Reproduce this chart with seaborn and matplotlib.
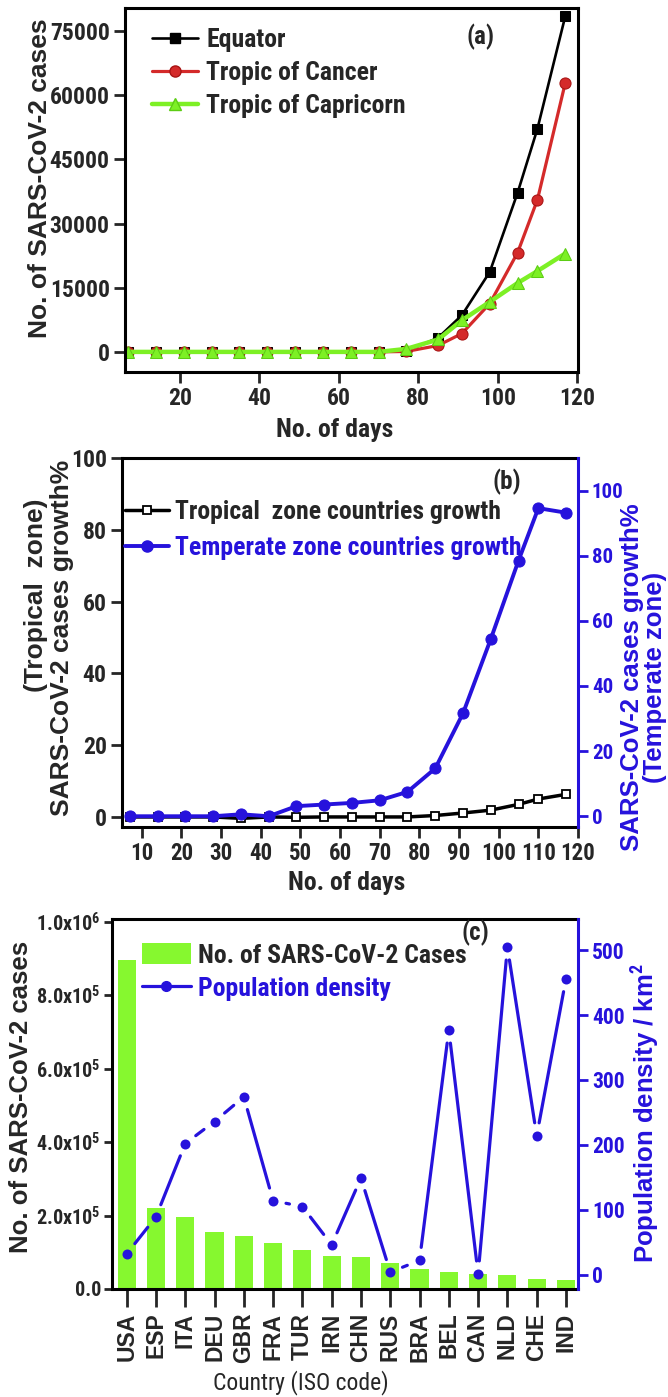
import os
import numpy as np
import pandas as pd
import matplotlib
matplotlib.use("Agg")
import matplotlib.pyplot as plt
import seaborn as sns
from matplotlib import font_manager
from matplotlib.font_manager import FontProperties
from matplotlib.lines import Line2D
from matplotlib.patches import Patch
from matplotlib.ticker import FuncFormatter

# ---------------- data ----------------
days_a = [7, 14, 21, 28, 35, 42, 49, 56, 63, 70, 77, 85, 91, 98, 105, 110, 117]
equator = [0, 0, 0, 0, 0, 0, 0, 0, 0, 0, 150, 3300, 8600, 18700, 37200, 52200, 78500]
tropic_cancer = [0, 0, 0, 0, 0, 0, 0, 0, 0, 0, 100, 1500, 4300, 11300, 23200, 35600, 62900]
tropic_capricorn = [0, 0, 0, 0, 0, 0, 0, 0, 0, 0, 700, 2900, 7400, 11700, 16100, 18900, 23000]
legend_a = ["Equator", "Tropic of Cancer", "Tropic of Capricorn"]

days_b = [7, 14, 21, 28, 35, 42, 49, 56, 63, 70, 77, 84, 91, 98, 105, 110, 117]
tropical_growth = [0, 0, 0, 0, -0.4, 0, -0.1, 0, 0, 0, 0, 0.4, 1.1, 1.9, 3.5, 5.0, 6.3]
temperate_growth = [0, 0, 0, 0, 0.6, 0, 3.1, 3.6, 4.1, 4.9, 7.5, 14.7, 31.6, 54.4, 78.5, 94.6, 93.2]
legend_b = ["Tropical  zone countries growth", "Temperate zone countries growth"]

countries = ["USA", "ESP", "ITA", "DEU", "GBR", "FRA", "TUR", "IRN",
             "CHN", "RUS", "BRA", "BEL", "CAN", "NLD", "CHE", "IND"]
cases = [895000, 220000, 196000, 154000, 143000, 125000, 105000, 89000,
         86000, 71000, 55000, 46000, 42000, 37000, 28000, 24000]
density = [32, 89, 202, 236, 274, 114, 105, 46, 149, 4, 22, 377, 1, 505, 214, 456]
legend_c = ["No. of SARS-CoV-2 Cases", "Population density"]

# ---------------- fonts ----------------
sns.set_theme(style="ticks")
font_files = [f.fname for f in font_manager.fontManager.ttflist]


def find_file(cands):
    for c in cands:
        for p in font_files:
            if os.path.basename(p).lower().startswith(c.lower()):
                return p
    return None


NB = find_file(["LiberationSansNarrow-Bold.", "RobotoCondensed-Bold.", "Roboto_Condensed-Bold",
                "NotoSans-CondensedBold.", "OpenSans-CondensedBold.", "OpenSans_Condensed-Bold",
                "OpenSansCondensed-Bold", "DejaVuSansCondensed-Bold."])
NR = find_file(["LiberationSansNarrow-Regular.", "RobotoCondensed-Regular.",
                "NotoSans-Condensed.", "OpenSans-Condensed.", "DejaVuSansCondensed."])
WB = find_file(["LiberationSans-Bold.", "Arimo-Bold.", "DejaVuSans-Bold."])
NSCALE = 0.86 if (NB is None or "dejavu" in os.path.basename(NB).lower()) else 1.0
WSCALE = 1.0 if (WB and "liberation" in os.path.basename(WB).lower()) else 0.9

plt.rcParams["font.family"] = ["Liberation Sans", "DejaVu Sans"]
if NB:
    fam = FontProperties(fname=NB).get_name()
    plt.rcParams["mathtext.fontset"] = "custom"
    plt.rcParams["mathtext.rm"] = fam + ":bold"
    plt.rcParams["mathtext.bf"] = fam + ":bold"
    plt.rcParams["mathtext.default"] = "rm"


def fnarrow(size, weight="bold"):
    path = NB if weight == "bold" else (NR or NB)
    if path:
        return FontProperties(fname=path, size=size * NSCALE)
    return FontProperties(family="DejaVu Sans", weight=weight, size=size * 0.82)


def fwide(size):
    if WB:
        return FontProperties(fname=WB, size=size * WSCALE)
    return FontProperties(family="DejaVu Sans", weight="bold", size=size * 0.9)


BLACK = "black"
RED = "#d42a2a"
RED_E = "#a81414"
GREEN = "#7df025"
GREEN_E = "#5ccc14"
BAR_GREEN = "#86f82f"
BLUE = "#2612dc"

W, H = 668, 1397
fig = plt.figure(figsize=(W / 100, H / 100), dpi=100)


def rect(l, t, r, b):
    return [l / W, 1 - b / H, (r - l) / W, (b - t) / H]


def ft(x, y, s, fp, **kw):
    fig.text(x / W, 1 - y / H, s, fontproperties=fp, ha="center", va="center", **kw)


def style_spines(ax, lw=2.2):
    for s in ax.spines.values():
        s.set_linewidth(lw)
        s.set_color("black")


def set_tick_fonts(labels, fp, color=None):
    for t in labels:
        t.set_fontproperties(fp)
        if color:
            t.set_color(color)


# ---------------- panel (a) ----------------
axA = fig.add_axes(rect(125, 8, 578, 372))
sns.lineplot(x=days_a, y=equator, ax=axA, color=BLACK, linewidth=1.9, marker="s",
             markersize=7.5, markeredgecolor=BLACK, markerfacecolor=BLACK, sort=False)
sns.lineplot(x=days_a, y=tropic_cancer, ax=axA, color=RED, linewidth=2.3, marker="o",
             markersize=8, markeredgecolor=RED_E, markerfacecolor=RED, sort=False)
sns.lineplot(x=days_a, y=tropic_capricorn, ax=axA, color=GREEN, linewidth=3.2, marker="^",
             markersize=9, markeredgecolor=GREEN_E, markerfacecolor=GREEN, sort=False)
axA.set_xlim(6.2, 120.2)
axA.set_ylim(-4700, 80400)
axA.set_xticks(range(20, 121, 20))
axA.set_yticks(range(0, 75001, 15000))
style_spines(axA)
axA.tick_params(direction="out", width=2, length=8, pad=3)
set_tick_fonts(axA.get_xticklabels(), fnarrow(17))
set_tick_fonts(axA.get_yticklabels(), fnarrow(17))
axA.set_xlabel("")
axA.set_ylabel("")
hA = [Line2D([], [], color=BLACK, lw=1.9, marker="s", ms=7.5),
      Line2D([], [], color=RED, lw=2.3, marker="o", ms=8, mec=RED_E),
      Line2D([], [], color=GREEN, lw=3.2, marker="^", ms=9, mec=GREEN_E)]
axA.legend(hA, legend_a, loc="upper left", bbox_to_anchor=(0.06, 0.945), frameon=False,
           prop=fnarrow(18.5), handlelength=1.8, handletextpad=0.3, labelspacing=0.35,
           borderpad=0, borderaxespad=0)
ft(480, 37, "(a)", fnarrow(18))
ft(40, 178, "No. of SARS-CoV-2 cases", fwide(19), rotation=90)
ft(335, 430, "No. of days", fnarrow(18.5))

# ---------------- panel (b) ----------------
axB = fig.add_axes(rect(122, 458, 578, 827))
sns.lineplot(x=days_b, y=tropical_growth, ax=axB, color=BLACK, linewidth=2.5, marker="s",
             markersize=6, markerfacecolor="white", markeredgecolor=BLACK,
             markeredgewidth=1.3, sort=False)
axB2 = axB.twinx()
sns.lineplot(x=days_b, y=temperate_growth, ax=axB2, color=BLUE, linewidth=2.8, marker="o",
             markersize=8, markerfacecolor=BLUE, markeredgecolor=BLUE, sort=False)
axB.set_xlim(5, 120)
axB.set_ylim(-2.8, 100)
axB2.set_ylim(-3.3, 110)
axB.set_xticks(range(10, 121, 10))
axB.set_yticks(range(0, 101, 20))
axB2.set_yticks(range(0, 101, 20))
style_spines(axB)
style_spines(axB2)
axB.spines["right"].set_visible(False)
for s in ("left", "top", "bottom"):
    axB2.spines[s].set_visible(False)
axB2.spines["right"].set_color(BLUE)
axB.tick_params(direction="out", width=2, length=8, pad=3)
axB2.tick_params(direction="out", width=2, length=7, pad=3, colors=BLUE)
set_tick_fonts(axB.get_xticklabels(), fnarrow(16.5))
set_tick_fonts(axB.get_yticklabels(), fnarrow(17))
set_tick_fonts(axB2.get_yticklabels(), fnarrow(15), BLUE)
axB.set_xlabel("")
axB.set_ylabel("")
axB2.set_ylabel("")
hB = [Line2D([], [], color=BLACK, lw=2.5, marker="s", ms=6, mfc="white", mew=1.3),
      Line2D([], [], color=BLUE, lw=2.8, marker="o", ms=8)]
legB = axB2.legend(hB, legend_b, loc="upper left", bbox_to_anchor=(0.007, 0.885), frameon=False,
                   prop=fnarrow(18.5), handlelength=1.7, handletextpad=0.25, labelspacing=0.45,
                   borderpad=0, borderaxespad=0)
legB.get_texts()[1].set_color(BLUE)
ft(507, 482, "(b)", fnarrow(18))
ft(36, 595, "(Tropical  zone)", fwide(19), rotation=90)
ft(62, 638, "SARS-CoV-2 cases growth%", fwide(19), rotation=90)
ft(632, 677, "SARS-CoV-2 cases growth%", fwide(18.5), rotation=90, color=BLUE)
ft(655, 677, "(Temperate zone)", fwide(18.5), rotation=90, color=BLUE)
ft(347, 883, "No. of days", fnarrow(18.5))

# ---------------- panel (c) ----------------
axC = fig.add_axes(rect(112, 919, 578, 1289))
sns.barplot(x=countries, y=cases, ax=axC, color=BAR_GREEN, saturation=1, width=0.62,
            linewidth=0)
axC2 = axC.twinx()
xs = np.arange(len(countries))
sns.scatterplot(x=xs, y=density, ax=axC2, color=BLUE, s=52, edgecolor=BLUE, linewidth=0,
                zorder=4)
for i in range(len(xs) - 1):
    axC2.annotate("", xy=(xs[i + 1], density[i + 1]), xytext=(xs[i], density[i]),
                  arrowprops=dict(arrowstyle="-", color=BLUE, lw=2.3, shrinkA=9.5, shrinkB=9.5))
axC.set_xlim(-0.5, 15.41)
axC.set_ylim(0, 1.007e6)
axC2.set_ylim(-22, 548)
axC.set_yticks(np.arange(0, 1.0e6 + 1, 2e5))
axC2.set_yticks(range(0, 501, 100))


def sci(v, pos):
    if v == 0:
        return "0.0"
    e = int(np.floor(np.log10(v) + 1e-9))
    m = v / 10 ** e
    return f"{m:.1f}x10$^{{{e}}}$"


axC.yaxis.set_major_formatter(FuncFormatter(sci))
style_spines(axC)
style_spines(axC2)
axC.spines["right"].set_visible(False)
for s in ("left", "top", "bottom"):
    axC2.spines[s].set_visible(False)
axC2.spines["right"].set_color(BLUE)
axC.tick_params(axis="x", direction="out", width=2, length=13, pad=4)
axC.tick_params(axis="y", direction="out", width=2, length=6, pad=2)
axC2.tick_params(direction="out", width=2, length=7, pad=3, colors=BLUE)
axC.set_xticks(xs)
axC.set_xticklabels(countries, rotation=90)
set_tick_fonts(axC.get_xticklabels(), fwide(16.5))
set_tick_fonts(axC.get_yticklabels(), fnarrow(14.5))
set_tick_fonts(axC2.get_yticklabels(), fnarrow(15.5), BLUE)
axC.set_xlabel("")
axC.set_ylabel("")
axC2.set_ylabel("")
hC = [Patch(facecolor=BAR_GREEN, edgecolor="none"),
      Line2D([], [], color=BLUE, lw=2.3, marker="o", ms=7)]
legC = axC2.legend(hC, legend_c, loc="upper left", bbox_to_anchor=(0.064, 0.935), frameon=False,
                   prop=fnarrow(18.5), handlelength=1.9, handleheight=0.9, handletextpad=0.3,
                   labelspacing=0.35, borderpad=0, borderaxespad=0)
legC.get_texts()[1].set_color(BLUE)
ft(475, 933, "(c)", fnarrow(18))
ft(21, 1097, "No. of SARS-CoV-2 cases", fwide(18.5), rotation=90)
ft(645, 1113, "Population density / km$^2$", fwide(18.5), rotation=90, color=BLUE)
ft(301, 1383, "Country (ISO code)", fnarrow(17, "normal"))

fig.savefig("out.png", dpi=100)
